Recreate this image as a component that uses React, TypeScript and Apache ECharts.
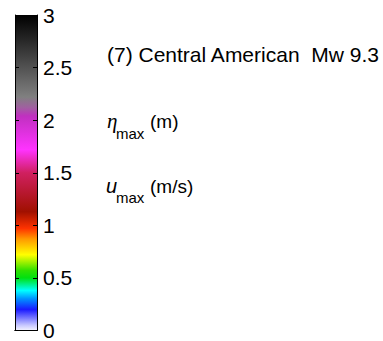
import React, { useEffect, useRef } from "react";
import * as echarts from "echarts";

// Colorbar scale
const axisMin = 0;
const axisMax = 3;
const axisInterval = 0.5;
const barCategories = ["scale"];
const barValues = [3];

// Colormap (value -> colour)
const stopValues = [0, 0.05, 0.2, 0.3, 0.38, 0.5, 0.57, 0.72, 0.87, 0.97, 1.13, 1.5, 1.72, 2.04, 2.12, 2.22, 3];
const stopColors = [
  "#f4f4ff", "#c8c8ff", "#1a1aff", "#0090ff", "#00ffff", "#00e010", "#30e000",
  "#ffff00", "#ff9900", "#ff3300", "#a01000", "#d02060", "#ff33ff", "#c030c0",
  "#a060a0", "#808080", "#000000",
];

// Annotation texts
const titleText = "(7) Central American  Mw 9.3";
const etaSymbol = "η";
const uSymbol = "u";
const subText = "max";
const etaUnit = "(m)";
const uUnit = "(m/s)";

export default function App() {
  const ref = useRef<HTMLDivElement>(null);
  useEffect(() => {
    if (!ref.current) return;
    const chart = echarts.init(ref.current, null, { renderer: "svg" });
    const stops = stopValues.map((v, i) => ({
      offset: (v - axisMin) / (axisMax - axisMin),
      color: stopColors[i],
    }));
    const sans = "'Liberation Sans', Arial, Helvetica, sans-serif";
    const axisCommon = {
      type: "value" as const,
      min: axisMin,
      max: axisMax,
      interval: axisInterval,
      z: 10,
      splitLine: { show: false },
      axisLine: { show: true, lineStyle: { color: "#000", width: 1 } },
      axisTick: { show: true, inside: true, length: 4, lineStyle: { color: "#000" } },
    };
    const xCommon = {
      type: "category" as const,
      data: barCategories,
      z: 10,
      axisLine: { show: true, lineStyle: { color: "#000", width: 1 } },
      axisTick: { show: false },
      axisLabel: { show: false },
    };
    chart.setOption({
      animation: false,
      backgroundColor: "#fff",
      grid: { left: 15, top: 15, width: 22, height: 316 },
      xAxis: [
        { ...xCommon, position: "bottom" },
        { ...xCommon, position: "top" },
      ],
      yAxis: [
        { ...axisCommon, position: "left", axisLabel: { show: false } },
        {
          ...axisCommon,
          position: "right",
          axisLabel: {
            show: true,
            margin: 6,
            fontSize: 21,
            color: "#000",
            fontFamily: sans,
            formatter: (v: number) => String(v),
          },
        },
      ],
      series: [
        {
          type: "bar",
          xAxisIndex: 0,
          yAxisIndex: 0,
          data: barValues,
          barWidth: "100%",
          itemStyle: {
            color: new echarts.graphic.LinearGradient(0, 1, 0, 0, stops),
          },
        },
      ],
      graphic: [
        {
          type: "text",
          x: 107,
          y: 54,
          style: { text: titleText, font: `21px ${sans}`, fill: "#000", verticalAlign: "middle" },
        },
        {
          type: "text",
          x: 107,
          y: 121,
          style: { text: etaSymbol, font: `italic 21px 'Liberation Serif', serif`, fill: "#000", verticalAlign: "middle" },
        },
        {
          type: "text",
          x: 116,
          y: 133,
          style: { text: subText, font: `15px ${sans}`, fill: "#000", verticalAlign: "middle" },
        },
        {
          type: "text",
          x: 150,
          y: 121,
          style: { text: etaUnit, font: `19px ${sans}`, fill: "#000", verticalAlign: "middle" },
        },
        {
          type: "text",
          x: 106,
          y: 186,
          style: { text: uSymbol, font: `italic 20px ${sans}`, fill: "#000", verticalAlign: "middle" },
        },
        {
          type: "text",
          x: 116,
          y: 197,
          style: { text: subText, font: `15px ${sans}`, fill: "#000", verticalAlign: "middle" },
        },
        {
          type: "text",
          x: 150,
          y: 186,
          style: { text: uUnit, font: `19px ${sans}`, fill: "#000", verticalAlign: "middle" },
        },
      ],
    });
    return () => chart.dispose();
  }, []);
  return (
    <div
      ref={ref}
      style={{ position: "fixed", left: 0, top: 0, width: 383, height: 341 }}
    />
  );
}
